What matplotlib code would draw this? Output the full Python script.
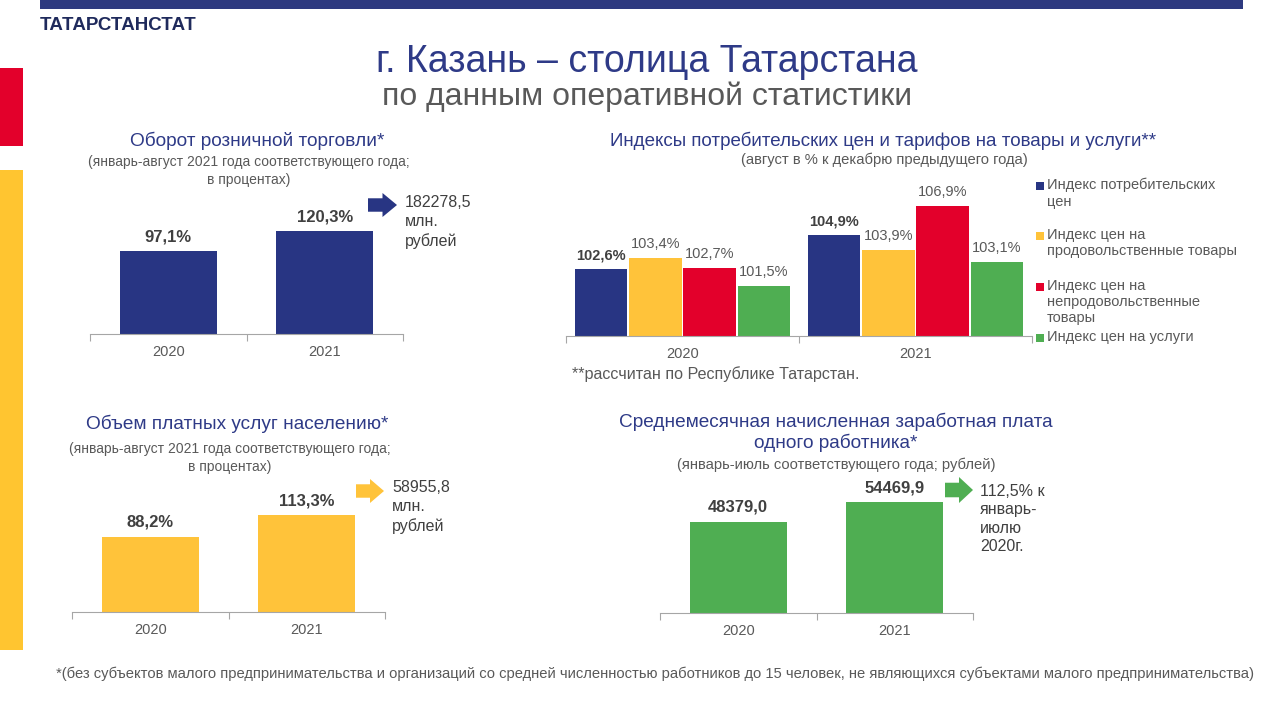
import matplotlib
matplotlib.use("Agg")
import matplotlib.pyplot as plt
from matplotlib.patches import Polygon, Rectangle

W, H = 1280, 720

years = ["2020", "2021"]

retail = [97.1, 120.3]
retail_total = "182278,5\nмлн.\nрублей"

services = [88.2, 113.3]
services_total = "58955,8\nмлн.\nрублей"

wage = [48379.0, 54469.9]
wage_note = "112,5% к\nянварь-\nиюлю\n2020г."

cpi_names = ["Индекс потребительских\nцен",
             "Индекс цен на\nпродовольственные товары",
             "Индекс цен на\nнепродовольственные\nтовары",
             "Индекс цен на услуги"]
cpi_2020 = [102.6, 103.4, 102.7, 101.5]
cpi_2021 = [104.9, 103.9, 106.9, 103.1]

NAVY = "#283583"
YELLOW = "#FFC33A"
RED = "#E3002B"
GREEN = "#4FAE52"
TITLE = "#2E3A87"
GRAY = "#595959"
DARK = "#404040"
AXIS = "#A6A6A6"

plt.rcParams["font.family"] = ["Liberation Sans", "DejaVu Sans"]

fig = plt.figure(figsize=(12.8, 7.2), dpi=100)


def fx(x):
    return x / W


def fy(y):
    return 1 - y / H


def rect(x0, y0, x1, y1, color):
    fig.add_artist(Rectangle((fx(x0), fy(y1)), fx(x1 - x0), (y1 - y0) / H,
                             transform=fig.transFigure, color=color, lw=0))


def block_arrow(x0, y0, w, h, color):
    xs = x0 + w * 0.5
    pts = [(x0, y0 + h * 0.22), (xs, y0 + h * 0.22), (xs, y0), (x0 + w, y0 + h / 2),
           (xs, y0 + h), (xs, y0 + h * 0.78), (x0, y0 + h * 0.78)]
    fig.add_artist(Polygon([(fx(a), fy(b)) for a, b in pts], closed=True,
                           transform=fig.transFigure, color=color, lw=0))


def txt(x, y, s, **kw):
    kw.setdefault("ha", "center")
    kw.setdefault("va", "center")
    fig.text(fx(x), fy(y), s, **kw)


def add_ax(x0, x1, ytop, ybase):
    ax = fig.add_axes([fx(x0), fy(ybase), (x1 - x0) / W, (ybase - ytop) / H])
    for s in ["top", "right", "left"]:
        ax.spines[s].set_visible(False)
    ax.spines["bottom"].set_color(AXIS)
    ax.set_xlim(-0.5, len(years) - 0.5)
    ax.set_xticks([i - 0.5 for i in range(len(years) + 1)])
    ax.set_xticklabels([])
    ax.tick_params(axis="x", which="major", length=5, color=AXIS, direction="out")
    ax.set_xticks(range(len(years)), minor=True)
    ax.set_xticklabels(years, minor=True, fontsize=10.5, color=GRAY)
    ax.tick_params(axis="x", which="minor", length=0, pad=8)
    ax.set_yticks([])
    ax.patch.set_alpha(0)
    return ax


def fmt(v, pct=True):
    return f"{v:.1f}".replace(".", ",") + ("%" if pct else "")


def simple_bar(x0, x1, ytop, ybase, values, color, ylim, pct=True):
    ax = add_ax(x0, x1, ytop, ybase)
    ax.bar(range(len(values)), values, width=0.62, color=color)
    ax.set_ylim(*ylim)
    for i, v in enumerate(values):
        ax.annotate(fmt(v, pct), (i, v), xytext=(0, 5), textcoords="offset points",
                    ha="center", va="bottom", fontsize=12, fontweight="bold", color=DARK)
    return ax


# decorations
rect(40, 0, 1243, 9, "#2E3A80")
rect(0, 68, 23, 146, RED)
rect(0, 170, 23, 650, "#FFC530")
txt(40, 26, "ТАТАРСТАНСТАТ", ha="left", fontsize=13.5, fontweight="bold", color="#1F2A5C")
txt(647, 62, "г. Казань – столица Татарстана", fontsize=27, color=TITLE)
txt(647, 97, "по данным оперативной статистики", fontsize=23, color=GRAY)

# retail turnover
txt(257, 141, "Оборот розничной торговли*", fontsize=13.7, color=TITLE)
txt(249, 171, "(январь-август 2021 года соответствующего года;\nв процентах)",
    fontsize=10, color=GRAY, linespacing=1.3)
simple_bar(90, 403, 180, 334, retail, NAVY, (0, 154 / 0.855))
block_arrow(368, 193, 29, 24, NAVY)
txt(405, 222, retail_total, ha="left", fontsize=11.5, color=DARK, linespacing=1.35)

# paid services
txt(237, 424, "Объем платных услуг населению*", fontsize=13.7, color=TITLE)
txt(230, 458, "(январь-август 2021 года соответствующего года;\nв процентах)",
    fontsize=10, color=GRAY, linespacing=1.3)
simple_bar(72, 385, 460, 612, services, YELLOW, (0, 152 / 0.855))
block_arrow(356, 479, 28, 24, YELLOW)
txt(392, 507, services_total, ha="left", fontsize=11.5, color=DARK, linespacing=1.35)

# wages
txt(836, 432, "Среднемесячная начисленная заработная плата\nодного работника*",
    fontsize=13.7, color=TITLE, linespacing=1.2)
txt(836, 465, "(январь-июль соответствующего года; рублей)", fontsize=10.6, color=GRAY)
wmin, wscale = 20000, 111 / (54469.9 - 20000)
simple_bar(660, 973, 470, 613, wage, GREEN, (wmin, wmin + 143 / wscale), pct=False)
block_arrow(945, 477, 28, 26, GREEN)
txt(980, 519, wage_note, ha="left", fontsize=11.5, color=DARK, linespacing=1.3)

# price indices
txt(883, 141, "Индексы потребительских цен и тарифов на товары и услуги**",
    fontsize=13.5, color=TITLE)
txt(884, 160, "(август в % к декабрю предыдущего года)", fontsize=10.6, color=GRAY)
ax = add_ax(566, 1032, 180, 336)
ymin, yscale = 98.1, 14.8
ax.set_ylim(ymin, ymin + 156 / yscale)
colors = [NAVY, YELLOW, RED, GREEN]
bw = 0.225
for k in range(4):
    xs = [i + (k - 1.5) * 0.233 for i in range(2)]
    vals = [cpi_2020[k], cpi_2021[k]]
    ax.bar(xs, vals, width=bw, color=colors[k])
    for x, v in zip(xs, vals):
        ax.annotate(fmt(v), (x, v), xytext=(0, 5), textcoords="offset points",
                    ha="center", va="bottom", fontsize=10.5,
                    fontweight="bold" if k == 0 else "normal",
                    color=DARK if k == 0 else GRAY)
txt(572, 374, "**рассчитан по Республике Татарстан.", ha="left", fontsize=11.6, color=GRAY)

leg_y = [186, 236, 287, 338]
for name, c, y in zip(cpi_names, colors, leg_y):
    rect(1036, y - 4, 1044, y + 4, c)
    txt(1047, y - 8, name, ha="left", va="top", fontsize=10.5, color=GRAY, linespacing=1.2)

# footnote
txt(655, 674, "*(без субъектов малого предпринимательства и организаций со средней численностью "
    "работников до 15 человек, не являющихся субъектами малого предпринимательства)",
    fontsize=10.6, color=GRAY)

fig.savefig("out.png", dpi=100)
